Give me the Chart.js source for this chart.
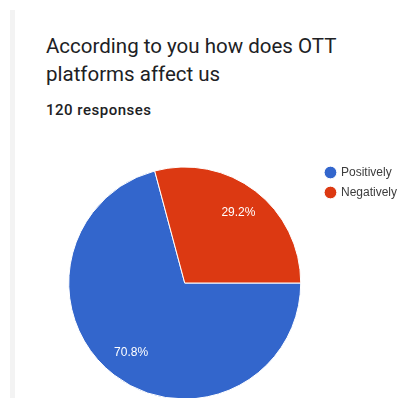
<!DOCTYPE html>
<html>
<head>
<meta charset="utf-8">
<script src="https://cdn.jsdelivr.net/npm/chart.js@4"></script>
<style>
html, body { margin: 0; padding: 0; background: #fff; overflow: hidden; width: 404px; height: 398px; }
.bar { position: absolute; left: 10px; top: 10px; width: 5px; height: 400px; background: #f3f3f3; }
.title { position: absolute; left: 46px; top: 32px; font-family: Roboto, sans-serif; font-size: 20.5px; line-height: 28px; color: #202124; }
.sub { position: absolute; left: 46px; top: 101px; font-family: Roboto, sans-serif; font-size: 15px; font-weight: 500; letter-spacing: 0.5px; color: #202124; }
#wrap { position: absolute; left: 0; top: 0; width: 420px; height: 420px; }
</style>
</head>
<body>
<div class="bar"></div>
<div class="title">According to you how does OTT<br>platforms affect us</div>
<div class="sub">120 responses</div>
<div id="wrap"><canvas id="chartOtt"></canvas></div>
<script>
// answers and response counts
const answers = ['Positively', 'Negatively'];
const counts = [85, 35];
const sliceColors = ['#3366cc', '#dc3912'];

// percent text inside each slice
const sliceLabels = {
  id: 'sliceLabels',
  afterDatasetsDraw(chart) {
    const ctx = chart.ctx;
    const meta = chart.getDatasetMeta(0);
    const total = counts.reduce((a, b) => a + b, 0);
    ctx.save();
    ctx.font = '12px "Liberation Sans", Arial, sans-serif';
    ctx.fillStyle = '#ffffff';
    ctx.textAlign = 'center';
    ctx.textBaseline = 'middle';
    meta.data.forEach((arc, i) => {
      const p = arc.getProps(['x', 'y', 'startAngle', 'endAngle', 'outerRadius']);
      const mid = (p.startAngle + p.endAngle) / 2;
      const r = p.outerRadius * 0.76;
      const txt = (counts[i] / total * 100).toFixed(1) + '%';
      ctx.fillText(txt, p.x + Math.cos(mid) * r, p.y + Math.sin(mid) * r);
    });
    ctx.restore();
  }
};

new Chart(document.getElementById('chartOtt'), {
  type: 'pie',
  data: {
    labels: answers,
    datasets: [{
      data: counts,
      backgroundColor: sliceColors,
      borderColor: '#ffffff',
      borderWidth: 1
    }]
  },
  options: {
    responsive: true,
    maintainAspectRatio: false,
    animation: false,
    rotation: 90,
    radius: 116,
    layout: { padding: { left: 51.5, top: 158.5, right: 13, bottom: 12.5 } },
    plugins: {
      legend: {
        position: 'right',
        align: 'start',
        labels: {
          usePointStyle: true,
          pointStyle: 'circle',
          boxWidth: 9,
          boxHeight: 9,
          padding: 8,
          color: '#3c3c3c',
          font: { family: '"Liberation Sans", Arial, sans-serif', size: 12 }
        }
      },
      tooltip: { enabled: false }
    }
  },
  plugins: [sliceLabels]
});
</script>
</body>
</html>
